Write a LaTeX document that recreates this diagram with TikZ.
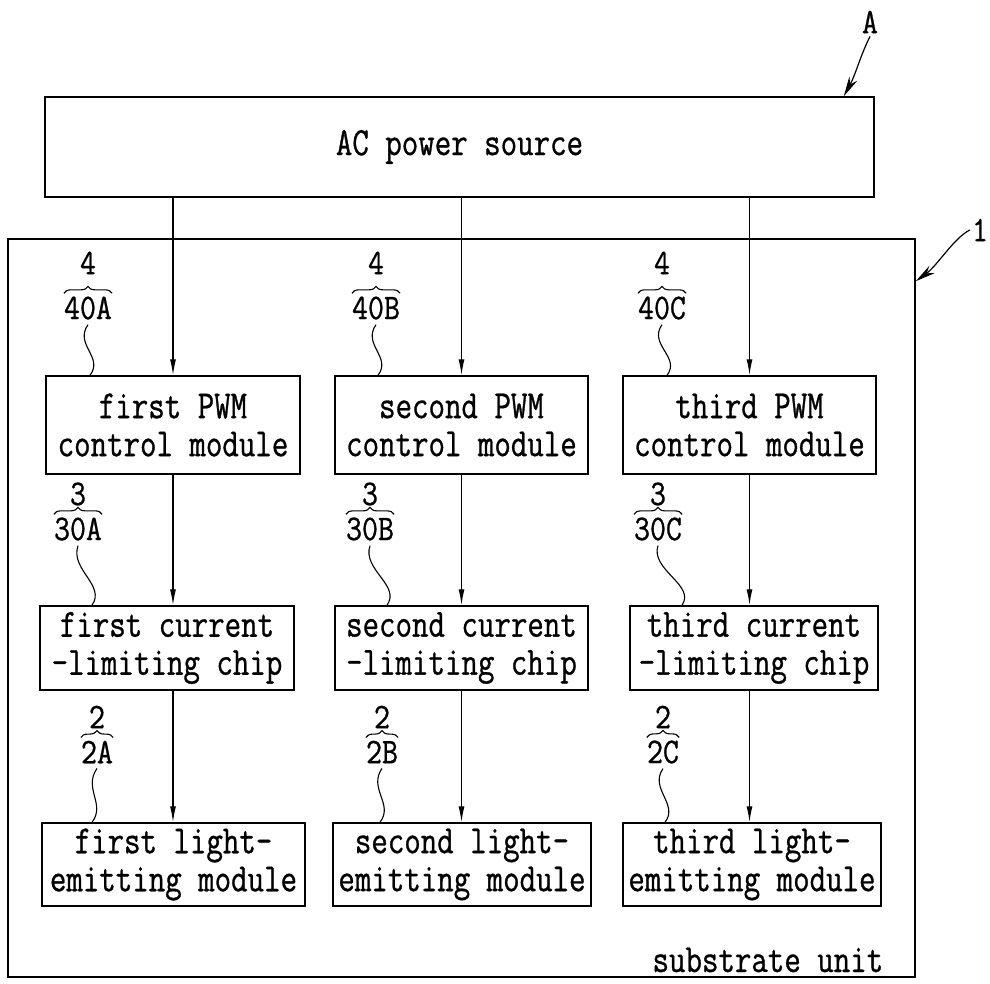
\documentclass[tikz,border=0pt]{standalone}
\usepackage{fontspec}
\usetikzlibrary{arrows.meta,positioning,decorations.pathreplacing}
\newfontfamily\patfont{Latin Modern Mono}[FakeStretch=0.8,FakeBold=0.8]
\newfontfamily\numfont{Latin Modern Mono}[FakeStretch=0.86,FakeBold=0.8]

\begin{document}
\begin{tikzpicture}[x=1pt,y=-1pt,
  box/.style={draw,line width=1.5pt,align=center,inner sep=0pt,font=\patfont\fontsize{40}{38}\selectfont},
  lbl/.style={inner sep=0pt,font=\numfont\fontsize{36}{36}\selectfont},
  arr/.style={-{Latex[length=16pt,width=6pt]},line width=1.2pt},
  brc/.style={decorate,decoration={brace,amplitude=7pt},line width=1.1pt},
  wav/.style={line width=1.1pt},
  lead/.style={-{Stealth[length=20pt,width=9pt]},line width=1.2pt}]
\useasboundingbox (0,0) rectangle (990,984);
% power source and substrate
\node[box,minimum width=829,minimum height=100] (ac) at (459.5,147) {AC power source};
\node[draw,line width=1.5pt,minimum width=907,minimum height=738] (sub) at (461.5,608) {};
\node[box,draw=none,anchor=base east] (subtxt) at (884,972) {substrate unit};
% modules
\node[box,minimum width=254,minimum height=98] (pwm1) at (173,425) {first PWM\\control module};
\node[box,minimum width=253,minimum height=98] (pwm2) at (461.5,425) {second PWM\\control module};
\node[box,minimum width=253,minimum height=98] (pwm3) at (749.5,425) {third PWM\\control module};
\node[box,minimum width=254,minimum height=84] (chip1) at (167,648) {first current\\-limiting chip};
\node[box,minimum width=253,minimum height=84] (chip2) at (461.5,648) {second current\\-limiting chip};
\node[box,minimum width=248,minimum height=84] (chip3) at (754,648) {third current\\-limiting chip};
\node[box,minimum width=263,minimum height=83] (light1) at (173.5,864.5) {first light-\\emitting module};
\node[box,minimum width=258,minimum height=83] (light2) at (462,864.5) {second light-\\emitting module};
\node[box,minimum width=258,minimum height=83] (light3) at (752,864.5) {third light-\\emitting module};
% signal arrows
\draw[arr] (ac.south -| pwm1.north) -- (pwm1.north);
\draw[arr] (ac.south -| pwm2.north) -- (pwm2.north);
\draw[arr] (ac.south -| pwm3.north) -- (pwm3.north);
\draw[arr] (pwm1.south) -- (pwm1.south |- chip1.north);
\draw[arr] (pwm2.south) -- (pwm2.south |- chip2.north);
\draw[arr] (pwm3.south) -- (pwm3.south |- chip3.north);
\draw[arr] (pwm1.south |- chip1.south) -- (pwm1.south |- light1.north);
\draw[arr] (pwm2.south |- chip2.south) -- (pwm2.south |- light2.north);
\draw[arr] (pwm3.south |- chip3.south) -- (pwm3.south |- light3.north);
% reference numerals
\node[lbl] (lblA) at (870,22) {A};
\coordinate (aTip) at ([xshift=-31pt]ac.north east);
\draw[lead] ([yshift=-3pt]lblA.south) .. controls +(-10,20) and +(12,-22) .. (aTip);
\node[lbl] (lbl1) at (980,230) {1};
\coordinate (subTip) at ([yshift=-43pt]sub.north east);
\draw[lead] ([xshift=-2pt]lbl1.west) .. controls +(-16,8) and +(22,-16) .. (subTip);
% 4 / 40x
\node[lbl] (l40a) at (88,308) {40A};
\node[lbl] (n4a) at (88,263) {4};
\draw[brc] ([yshift=3pt]l40a.north west) -- ([yshift=3pt]l40a.north east);
\draw[wav] ([yshift=-5pt]l40a.south) .. controls +(-14,20) and +(14,-18) .. ([xshift=2pt]l40a.south |- pwm1.north);
\node[lbl] (l40b) at (376,308) {40B};
\node[lbl] (n4b) at (376,263) {4};
\draw[brc] ([yshift=3pt]l40b.north west) -- ([yshift=3pt]l40b.north east);
\draw[wav] ([yshift=-5pt]l40b.south) .. controls +(-14,20) and +(14,-18) .. ([xshift=2pt]l40b.south |- pwm2.north);
\node[lbl] (l40c) at (662,308) {40C};
\node[lbl] (n4c) at (662,263) {4};
\draw[brc] ([yshift=3pt]l40c.north west) -- ([yshift=3pt]l40c.north east);
\draw[wav] ([yshift=-5pt]l40c.south) .. controls +(-14,20) and +(14,-18) .. ([xshift=5pt]l40c.south |- pwm3.north);
% 3 / 30x
\node[lbl] (l30a) at (78,529) {30A};
\node[lbl] (n3a) at (78,494) {3};
\draw[brc] ([yshift=3pt]l30a.north west) -- ([yshift=3pt]l30a.north east);
\draw[wav] ([yshift=-5pt]l30a.south) .. controls +(-8,24) and +(14,-20) .. ([xshift=14pt]l30a.south |- chip1.north);
\node[lbl] (l30b) at (370,529) {30B};
\node[lbl] (n3b) at (370,494) {3};
\draw[brc] ([yshift=3pt]l30b.north west) -- ([yshift=3pt]l30b.north east);
\draw[wav] ([yshift=-5pt]l30b.south) .. controls +(-8,24) and +(14,-20) .. ([xshift=17pt]l30b.south |- chip2.north);
\node[lbl] (l30c) at (658,529) {30C};
\node[lbl] (n3c) at (658,494) {3};
\draw[brc] ([yshift=3pt]l30c.north west) -- ([yshift=3pt]l30c.north east);
\draw[wav] ([yshift=-5pt]l30c.south) .. controls +(-8,24) and +(14,-20) .. ([xshift=24pt]l30c.south |- chip3.north);
% 2 / 2x
\node[lbl] (l2a) at (97,752) {2A};
\node[lbl] (n2a) at (97,717) {2};
\draw[brc] ([yshift=3pt]l2a.north west) -- ([yshift=3pt]l2a.north east);
\draw[wav] ([yshift=-5pt]l2a.south) .. controls +(-14,20) and +(14,-18) .. ([xshift=-5pt]l2a.south |- light1.north);
\node[lbl] (l2b) at (382,752) {2B};
\node[lbl] (n2b) at (382,717) {2};
\draw[brc] ([yshift=3pt]l2b.north west) -- ([yshift=3pt]l2b.north east);
\draw[wav] ([yshift=-5pt]l2b.south) .. controls +(-14,20) and +(14,-18) .. ([xshift=-2pt]l2b.south |- light2.north);
\node[lbl] (l2c) at (663,752) {2C};
\node[lbl] (n2c) at (663,717) {2};
\draw[brc] ([yshift=3pt]l2c.north west) -- ([yshift=3pt]l2c.north east);
\draw[wav] ([yshift=-5pt]l2c.south) .. controls +(-14,20) and +(14,-18) .. ([xshift=2pt]l2c.south |- light3.north);
\end{tikzpicture}
\end{document}
